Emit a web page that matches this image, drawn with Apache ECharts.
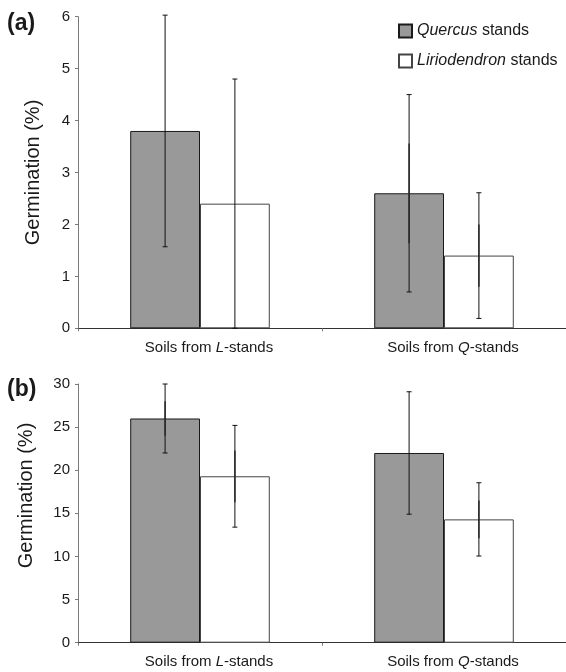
<!DOCTYPE html>
<html>
<head>
<meta charset="utf-8">
<script src="https://cdn.jsdelivr.net/npm/echarts@6/dist/echarts.min.js"></script>
<style>
html,body{margin:0;padding:0;background:#fff;}
#c{width:566px;height:672px;}
</style>
</head>
<body>
<div id="c"></div>
<script>
// ---- Data ----
const categories = ['L', 'Q'];               // Soils from L-stands / Q-stands
const seriesNames = ['Quercus', 'Liriodendron'];
// Panel (a)
const quercusA = [3.8, 2.6];
const lirioA = [2.4, 1.4];
const quercusAErr = [2.23, 1.9];
const lirioAErr = [2.4, 1.21];
const quercusAInner = [0, 0.96];
const lirioAInner = [0, 0.6];
// Panel (b)
const quercusB = [26.0, 22.0];
const lirioB = [19.3, 14.3];
const quercusBErr = [4.0, 7.1];
const lirioBErr = [5.9, 4.25];
const quercusBInner = [2.0, 0];
const lirioBInner = [3.0, 2.2];
// Axis ticks
const yTicksA = [0, 1, 2, 3, 4, 5, 6];
const yTicksB = [0, 5, 10, 15, 20, 25, 30];

const FONT = 'Liberation Sans, Arial, sans-serif';
const TXT = '#1a1a1a';
const BAR_FRAC = 0.286;

function errData(vals, errs, inner) {
  return vals.map((v, i) => [i, v, errs[i], inner[i]]);
}
function errSeries(xi, yi, vals, errs, inner, side) {
  return {
    type: 'custom',
    xAxisIndex: xi, yAxisIndex: yi,
    silent: true,
    z: 10,
    data: errData(vals, errs, inner),
    renderItem: function (params, api) {
      const ci = api.value(0), v = api.value(1), e = api.value(2), inn = api.value(3);
      const w = api.size([1, 0])[0];
      const x = api.coord([ci, v])[0] + side * w * BAR_FRAC / 2;
      const top = api.coord([ci, v + e])[1];
      const bot = api.coord([ci, Math.max(v - e, 0)])[1];
      const cap = 2.5;
      const st = { stroke: '#111', lineWidth: 1 };
      const ch = [
        { type: 'line', shape: { x1: x, y1: top, x2: x, y2: bot }, style: st },
        { type: 'line', shape: { x1: x - cap, y1: top, x2: x + cap, y2: top }, style: st },
        { type: 'line', shape: { x1: x - cap, y1: bot, x2: x + cap, y2: bot }, style: st }
      ];
      if (inn > 0) {
        const it = api.coord([ci, v + inn])[1];
        const ib = api.coord([ci, Math.max(v - inn, 0)])[1];
        ch.push({ type: 'line', shape: { x1: x, y1: it, x2: x, y2: ib }, style: { stroke: '#2a2a2a', lineWidth: 1.5 } });
      }
      return { type: 'group', children: ch };
    }
  };
}

function yAxis(gi, ticks) {
  return {
    type: 'value', gridIndex: gi,
    min: ticks[0], max: ticks[ticks.length - 1], interval: ticks[1] - ticks[0],
    splitLine: { show: false },
    axisLine: { show: true, lineStyle: { color: '#7a7a7a', width: 1 } },
    axisTick: { show: true, length: 3, lineStyle: { color: '#7a7a7a' } },
    axisLabel: { color: TXT, fontFamily: FONT, fontSize: 15, margin: 8 }
  };
}
function xAxis(gi) {
  return {
    type: 'category', gridIndex: gi, data: categories,
    axisLine: { show: true, lineStyle: { color: '#333', width: 1 } },
    axisTick: { show: true, length: 3, lineStyle: { color: '#7a7a7a' } },
    axisLabel: {
      margin: 12,
      padding: [0, 0, 0, 18],
      formatter: v => '{n|Soils from }{i|' + v + '}{n|-stands}',
      rich: {
        n: { color: TXT, fontFamily: FONT, fontSize: 15 },
        i: { color: TXT, fontFamily: FONT, fontSize: 15, fontStyle: 'italic' }
      }
    }
  };
}

const qStyle = { color: '#999999', borderColor: '#1a1a1a', borderWidth: 1 };
const lStyle = { color: '#ffffff', borderColor: '#444', borderWidth: 1 };

function bar(name, xi, yi, data, style) {
  return {
    name: name, type: 'bar', xAxisIndex: xi, yAxisIndex: yi,
    data: data, barWidth: (BAR_FRAC * 100) + '%', barGap: '0%',
    itemStyle: style, silent: true
  };
}

const chart = echarts.init(document.getElementById('c'), null, { renderer: 'canvas' });
chart.setOption({
  animation: false,
  backgroundColor: '#fff',
  grid: [
    { left: 78, right: 0, top: 16.7, bottom: 343.7 },
    { left: 78, right: 0, top: 384, bottom: 29.3 }
  ],
  xAxis: [xAxis(0), xAxis(1)],
  yAxis: [yAxis(0, yTicksA), yAxis(1, yTicksB)],
  legend: {
    orient: 'vertical',
    left: 393, top: 18,
    icon: 'rect',
    itemWidth: 13, itemHeight: 13, itemGap: 14,
    data: seriesNames,
    formatter: n => '{i|' + n + '}{n| stands}',
    textStyle: {
      rich: {
        i: { fontFamily: FONT, fontSize: 16, fontStyle: 'italic', color: TXT, lineHeight: 16 },
        n: { fontFamily: FONT, fontSize: 16, color: TXT, lineHeight: 16 }
      }
    }
  },
  graphic: [
    { type: 'text', left: 7, top: 12, style: { text: '(a)', font: 'bold 23px ' + FONT, fill: TXT } },
    { type: 'text', left: 7, top: 378, style: { text: '(b)', font: 'bold 23px ' + FONT, fill: TXT } },
    { type: 'text', x: 33, y: 172.5, rotation: Math.PI / 2,
      style: { text: 'Germination (%)', font: '20px ' + FONT, fill: TXT, textAlign: 'center', textVerticalAlign: 'middle' } },
    { type: 'text', x: 26, y: 495.5, rotation: Math.PI / 2,
      style: { text: 'Germination (%)', font: '20px ' + FONT, fill: TXT, textAlign: 'center', textVerticalAlign: 'middle' } }
  ],
  series: [
    bar(seriesNames[0], 0, 0, quercusA, qStyle),
    bar(seriesNames[1], 0, 0, lirioA, lStyle),
    bar(seriesNames[0], 1, 1, quercusB, qStyle),
    bar(seriesNames[1], 1, 1, lirioB, lStyle),
    errSeries(0, 0, quercusA, quercusAErr, quercusAInner, -1),
    errSeries(0, 0, lirioA, lirioAErr, lirioAInner, 1),
    errSeries(1, 1, quercusB, quercusBErr, quercusBInner, -1),
    errSeries(1, 1, lirioB, lirioBErr, lirioBInner, 1)
  ]
});
</script>
</body>
</html>
